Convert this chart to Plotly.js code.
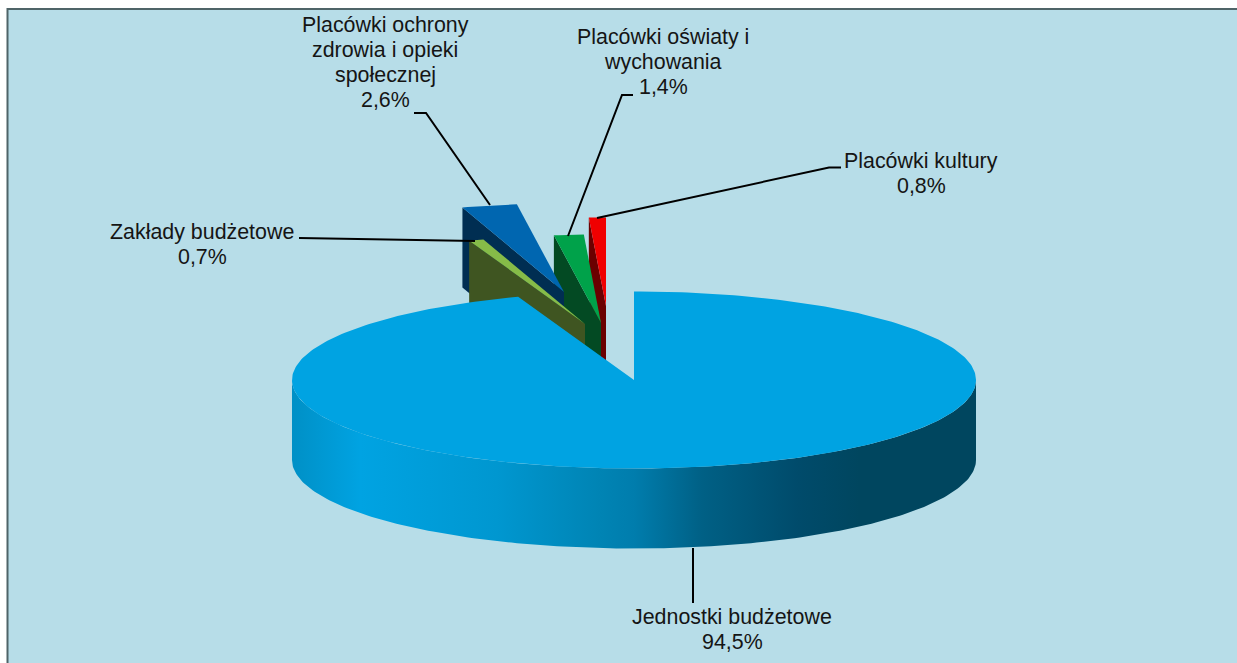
<!DOCTYPE html>
<html><head><meta charset="utf-8">
<script src="https://cdn.plot.ly/plotly-3.0.1.min.js"></script>
<style>html,body{margin:0;padding:0;background:#fff}#c{width:1237px;height:663px}</style>
</head><body><div id="c"></div>
<script>
// ---- data ----
const categories = ["Jednostki budżetowe", "Zakłady budżetowe", "Placówki ochrony zdrowia i opieki społecznej", "Placówki oświaty i wychowania", "Placówki kultury"];
const shares = [94.5, 0.7, 2.6, 1.4, 0.8];
const shareLabels = ["94,5%", "0,7%", "2,6%", "1,4%", "0,8%"];

// ---- styles and projection ----
const topColors  = ["#00A3E2", "#86BB48", "#0066B0", "#00A24A", "#F00000"];
const wallColors = ["#00A3E2", "#3F5521", "#002E52", "#034A23", "#6B0000"];
const pieCentres = [[634,380],[585,324],[564,292],[601,323],[606,306]]; // exploded slice apex
const RX = 342, RY = 88.5, DEPTH = 80;
const FONT = "Liberation Sans, Arial, sans-serif", FS = 21.4, LINE = 25;

const total = shares.reduce((a,b)=>a+b,0);
let run = 0;
const spans = shares.map(v => { const a = run/total*360; run += v; return [a, run/total*360]; });
const pt = (c,deg,dy=0) => [c[0]+RX*Math.sin(deg*Math.PI/180), c[1]-RY*Math.cos(deg*Math.PI/180)+dy];
function arc(c,a,b,dy=0){ const n=Math.max(2,Math.ceil(Math.abs(b-a))), o=[]; for(let i=0;i<=n;i++) o.push(pt(c,a+(b-a)*i/n,dy)); return o; }
function poly(points,color,name){
  return {type:"scatter",mode:"lines",x:points.map(p=>p[0]),y:points.map(p=>p[1]),fill:"toself",fillcolor:color,
          line:{width:0,color:color},hoverinfo:"skip",showlegend:false,name:name};
}
const traces = [];
// exploded slices, back to front: culture, education, health, budget establishments
[4,3,2,1].forEach(i=>{
  const c = pieCentres[i], a = spans[i][0], b = spans[i][1];
  const r = pt(c,a);
  traces.push(poly([r,c,[c[0],c[1]+DEPTH],[r[0],r[1]+DEPTH],r],wallColors[i],categories[i]+" wall"));
  traces.push(poly([c,...arc(c,a,b),c],topColors[i],categories[i]));
});
// main slice: front wall with a horizontal shading, then the top face
const mc = pieCentres[0];
const wall = {...poly([...arc(mc,90,270),...arc(mc,270,90,DEPTH)],"#00A3E2",categories[0]+" wall")};
wall.fillgradient = {type:"horizontal",start:mc[0]-RX,stop:mc[0]+RX,colorscale:[
  [0,"#0090C6"],[0.1,"#00A3E2"],[0.3,"#0097D0"],[0.45,"#0084B4"],[0.5,"#007DAD"],[0.6,"#006085"],[0.74,"#004B6B"],[0.83,"#00465F"],[1,"#00465F"]]};
delete wall.fillcolor;
traces.push(wall);
traces.push(poly([mc,...arc(mc,spans[0][0],spans[0][1]),mc],topColors[0],categories[0]));

const labelBlocks = [
  {lines:["Jednostki budżetowe"], x:732, y:617, i:0},
  {lines:["Zakłady budżetowe"], x:202, y:232, i:1},
  {lines:["Placówki ochrony","zdrowia i opieki","społecznej"], x:385, y:25, i:2},
  {lines:["Placówki oświaty i","wychowania"], x:663, y:37, i:3},
  {lines:["Placówki kultury"], x:921, y:161, i:4}
];
const annotations = labelBlocks.flatMap(l=>[...l.lines,shareLabels[l.i]].map((t,k)=>({xref:"x",yref:"y",x:l.x,y:l.y+k*LINE,
  showarrow:false,align:"center",xanchor:"center",yanchor:"middle",text:t,font:{family:FONT,size:FS,color:"#151515"}})));

const leader = (d,w)=>({type:"path",path:d,xref:"x",yref:"y",line:{color:"#000",width:w},layer:"above"});
const shapes = [
  {type:"rect",xref:"x",yref:"y",x0:7.5,y0:9,x1:1245,y1:675,fillcolor:"#B7DDE8",line:{color:"#4F6468",width:2},layer:"below"},
  leader("M693,548 L693,603",2),
  leader("M299,238 L475,241",2),
  leader("M414,113 L426,113 L490,205",2),
  leader("M633,95 L622,95 L568,236",2),
  leader("M841,167.5 L829,167.5 L597,218",2)
];
Plotly.newPlot("c",traces,{
  width:1237,height:663,margin:{l:0,r:0,t:0,b:0},paper_bgcolor:"#fff",plot_bgcolor:"rgba(0,0,0,0)",
  xaxis:{range:[0,1237],visible:false,fixedrange:true},
  yaxis:{range:[663,0],visible:false,fixedrange:true},
  showlegend:false,annotations,shapes,hovermode:false
},{displayModeBar:false,staticPlot:true});
</script></body></html>
